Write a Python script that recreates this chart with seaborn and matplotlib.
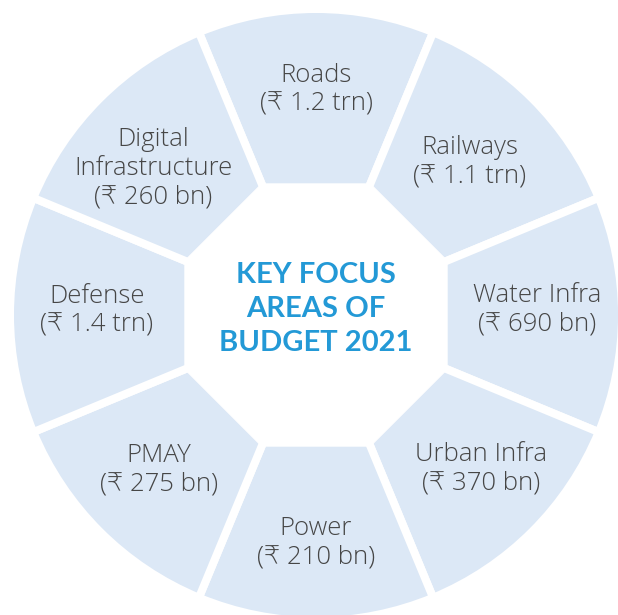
"""Key focus areas of Budget 2021 - ring diagram."""

import matplotlib

matplotlib.use("Agg")

import matplotlib.pyplot as plt
import numpy as np
import seaborn as sns
from matplotlib.patches import Polygon

# segments, clockwise from the top
AREAS = [
    "Roads",
    "Railways",
    "Water Infra",
    "Urban Infra",
    "Power",
    "PMAY",
    "Defense",
    "Digital\nInfrastructure",
]
ALLOCATIONS = [
    "(₹ 1.2 trn)",
    "(₹ 1.1 trn)",
    "(₹ 690 bn)",
    "(₹ 370 bn)",
    "(₹ 210 bn)",
    "(₹ 275 bn)",
    "(₹ 1.4 trn)",
    "(₹ 260 bn)",
]
CENTER_TITLE = "KEY FOCUS\nAREAS OF\nBUDGET 2021"

FILL = "#dce8f6"
TEXT_GREY = "#464646"
TITLE_BLUE = "#2399d6"

W, H = 618, 615
CX, CY = 316, H - 315
R_OUTER = 306
APOTHEM = 131
R_LABEL = 222
GAP_PX = 8
# small hand nudges of each label (pixels, x right / y down)
LABEL_NUDGE = [(0, -1), (-3, 6), (-1, -3), (8, -1), (0, 8), (0, 0), (3, -2), (-6, 12)]


def main() -> None:
    sns.set_theme(style="white")
    plt.rcParams["font.family"] = ["Open Sans", "DejaVu Sans"]

    fig = plt.figure(figsize=(W / 100, H / 100), dpi=100)
    ax = fig.add_axes([0, 0, 1, 1])

    n = len(AREAS)
    step = 360 / n
    ax.pie(
        [1] * n,
        radius=R_OUTER,
        center=(CX, CY),
        startangle=90 + step / 2,
        counterclock=False,
        colors=[FILL] * n,
        wedgeprops=dict(edgecolor="white", linewidth=GAP_PX * 72 / 100),
    )

    # white octagon hides the inner part of the wedges
    corner_angles = np.deg2rad(90 + step / 2 - step * np.arange(n))
    r_corner = APOTHEM / np.cos(np.deg2rad(step / 2))
    octagon = np.column_stack(
        [CX + r_corner * np.cos(corner_angles), CY + r_corner * np.sin(corner_angles)]
    )
    ax.add_patch(Polygon(octagon, closed=True, facecolor="white", edgecolor="white", lw=1, zorder=3))

    for i, (area, amount) in enumerate(zip(AREAS, ALLOCATIONS)):
        theta = np.deg2rad(90 - step * i)
        dx, dy = LABEL_NUDGE[i]
        x = CX + R_LABEL * np.cos(theta) + dx
        y = CY + R_LABEL * np.sin(theta) + 2 - dy
        ax.text(
            x, y, f"{area}\n{amount}",
            ha="center", va="center", fontsize=18.5, fontweight="light",
            color=TEXT_GREY, linespacing=1.21, zorder=4,
        )

    ax.text(
        CX, CY + 6, CENTER_TITLE,
        ha="center", va="center", fontsize=21, fontweight="bold",
        family=["Lato", "DejaVu Sans"], color=TITLE_BLUE,
        linespacing=1.36, zorder=4,
    )

    ax.set_xlim(0, W)
    ax.set_ylim(0, H)
    ax.set_aspect("equal")
    ax.axis("off")
    fig.savefig("out.png", dpi=100, facecolor="white")
    plt.close(fig)


if __name__ == "__main__":
    main()
